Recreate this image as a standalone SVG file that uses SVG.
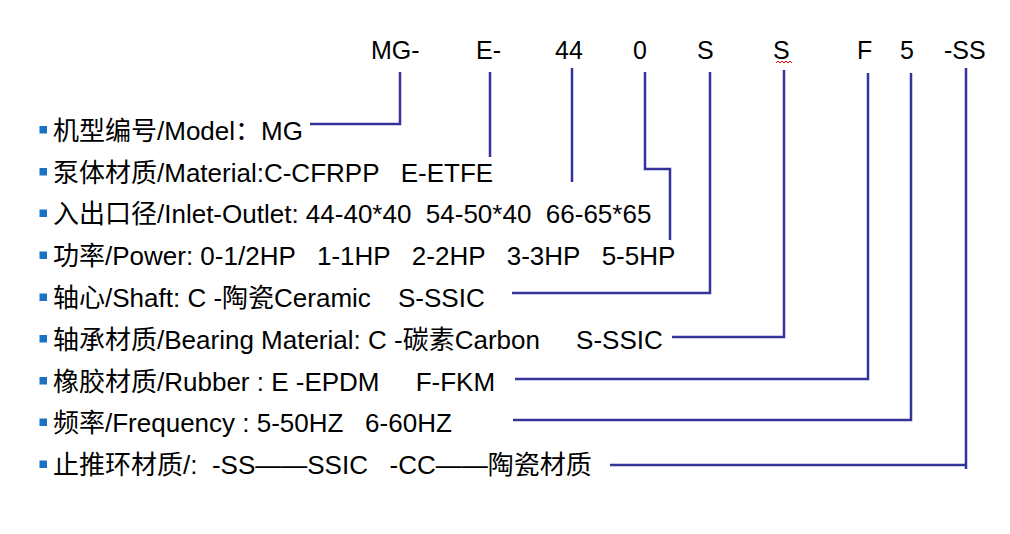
<svg xmlns="http://www.w3.org/2000/svg" width="1010" height="534" viewBox="0 0 1010 534">
<style>
text{font-family:"Liberation Sans","Noto Sans CJK SC",sans-serif;fill:#000;white-space:pre}
.code{font-size:25px}
.row{font-size:26px}
.bul{fill:#1a73c2}
.conn{fill:none;stroke:#333399;stroke-width:2.5;stroke-linejoin:miter}
</style>
<rect width="1010" height="534" fill="#fff"/>
<g id="codes">
<g id="code-mg"><text class="code" x="371" y="59">MG-</text></g>
<g id="code-e"><text class="code" x="476" y="59">E-</text></g>
<g id="code-44"><text class="code" x="555" y="59">44</text></g>
<g id="code-0"><text class="code" x="633" y="59">0</text></g>
<g id="code-s1"><text class="code" x="697" y="59">S</text></g>
<g id="code-s2"><text class="code" x="773" y="59">S</text><path d="M776,63 l2,-2 l2,2 l2,-2 l2,2 l2,-2 l2,2 l2,-2 l2,2" fill="none" stroke="#e00" stroke-width="1"/></g>
<g id="code-f"><text class="code" x="857" y="59">F</text></g>
<g id="code-5"><text class="code" x="900" y="59">5</text></g>
<g id="code-ss"><text class="code" x="944" y="59">-SS</text></g>
</g>
<g id="rows">
<g id="row-model"><rect class="bul" x="39.5" y="126" width="7.5" height="7.5"/><text class="row" x="53" y="139.5">机型编号/Model：MG</text></g>
<g id="row-material"><rect class="bul" x="39.5" y="168" width="7.5" height="7.5"/><text class="row" x="53" y="181.5">泵体材质/Material:C-CFRPP   E-ETFE</text></g>
<g id="row-inlet"><rect class="bul" x="39.5" y="209.5" width="7.5" height="7.5"/><text class="row" x="53" y="223">入出口径/Inlet-Outlet: 44-40*40  54-50*40  66-65*65</text></g>
<g id="row-power"><rect class="bul" x="39.5" y="251.5" width="7.5" height="7.5"/><text class="row" x="53" y="265">功率/Power: 0-1/2HP   1-1HP   2-2HP   3-3HP   5-5HP</text></g>
<g id="row-shaft"><rect class="bul" x="39.5" y="293.5" width="7.5" height="7.5"/><text class="row" x="53" y="307">轴心/Shaft: C -陶瓷Ceramic<tspan x="398">S-SSIC</tspan></text></g>
<g id="row-bearing"><rect class="bul" x="39.5" y="335" width="7.5" height="7.5"/><text class="row" x="53" y="348.5">轴承材质/Bearing Material: C -碳素Carbon     S-SSIC</text></g>
<g id="row-rubber"><rect class="bul" x="39.5" y="377" width="7.5" height="7.5"/><text class="row" x="53" y="390.5">橡胶材质/Rubber : E -EPDM     F-FKM</text></g>
<g id="row-freq"><rect class="bul" x="39.5" y="418.5" width="7.5" height="7.5"/><text class="row" x="53" y="432">频率/Frequency : 5-50HZ   6-60HZ</text></g>
<g id="row-thrust"><rect class="bul" x="39.5" y="460.5" width="7.5" height="7.5"/><text class="row" x="53" y="474">止推环材质/:  -SS——SSIC   -CC——陶瓷材质</text></g>
</g>
<g id="connectors">
<path class="conn" d="M400,72 V124 H310"/>
<path class="conn" d="M490,72 V157"/>
<path class="conn" d="M572,68 V182"/>
<path class="conn" d="M645,72 V169 H670 V240"/>
<path class="conn" d="M710,72 V293 H512"/>
<path class="conn" d="M784,70 V337 H672"/>
<path class="conn" d="M868,73 V379 H515"/>
<path class="conn" d="M911,73 V420 H513"/>
<path class="conn" d="M966,68 V469"/>
<path class="conn" d="M966,465 H610"/>
</g>
</svg>
